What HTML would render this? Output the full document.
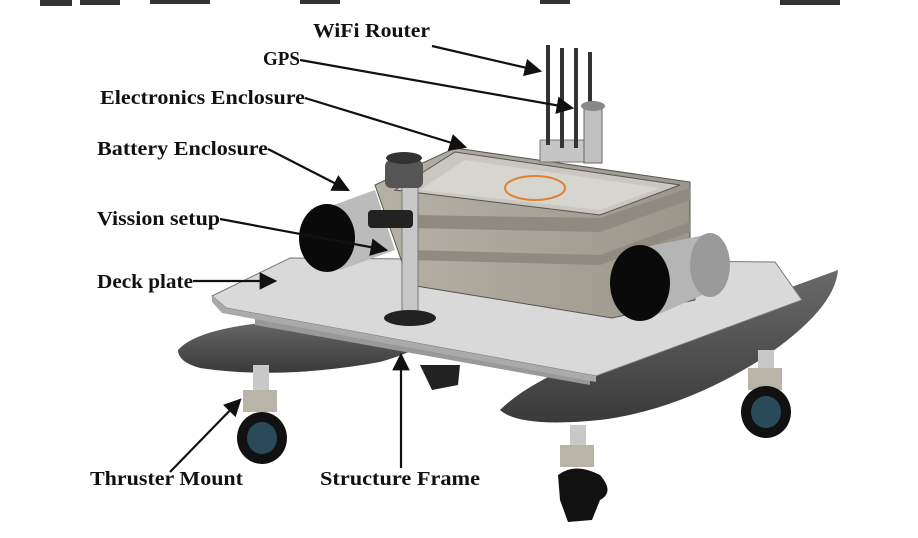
<!DOCTYPE html>
<html><head><style>
body{margin:0;background:#fff;}
svg{display:block;}
text{font-family:"Liberation Serif",serif;font-weight:bold;font-size:20px;fill:#111;}
</style></head><body>
<svg width="918" height="538" viewBox="0 0 918 538" xmlns="http://www.w3.org/2000/svg">
<defs>
<marker id="a" markerWidth="8" markerHeight="8" refX="7" refY="4" orient="auto"><path d="M0,0 L8,4 L0,8 z" fill="#111"/></marker>
<linearGradient id="hull" x1="0" y1="0" x2="0" y2="1"><stop offset="0" stop-color="#6a6a6a"/><stop offset="1" stop-color="#3a3a3a"/></linearGradient>
<linearGradient id="box" x1="0" y1="0" x2="1" y2="0"><stop offset="0" stop-color="#b5b1a5"/><stop offset="1" stop-color="#9a968a"/></linearGradient>
</defs>
<g fill="#333">
<rect x="40" y="0" width="32" height="6"/><rect x="80" y="0" width="40" height="5"/><rect x="150" y="0" width="60" height="4"/>
<rect x="300" y="0" width="40" height="4"/><rect x="540" y="0" width="30" height="4"/><rect x="780" y="0" width="60" height="5"/>
</g>
<path d="M178,350 Q200,325 300,320 L445,318 Q440,345 380,362 Q280,380 200,368 Q178,362 178,350z" fill="url(#hull)"/>
<path d="M500,410 Q540,370 660,335 L838,270 Q835,310 760,360 Q680,410 600,420 Q520,428 500,410z" fill="url(#hull)"/>
<rect x="253" y="365" width="16" height="30" fill="#c8c8c8"/>
<rect x="243" y="390" width="34" height="22" fill="#b8b4a8"/>
<ellipse cx="262" cy="438" rx="25" ry="26" fill="#111"/><ellipse cx="262" cy="438" rx="15" ry="16" fill="#2a4a5a"/>
<rect x="758" y="350" width="16" height="25" fill="#c8c8c8"/>
<rect x="748" y="368" width="34" height="22" fill="#b8b4a8"/>
<ellipse cx="766" cy="412" rx="25" ry="26" fill="#111"/><ellipse cx="766" cy="412" rx="15" ry="16" fill="#2a4a5a"/>
<rect x="570" y="425" width="16" height="25" fill="#c8c8c8"/>
<rect x="560" y="445" width="34" height="22" fill="#b8b4a8"/>
<path d="M558,475 Q575,462 600,475 Q615,492 600,500 L592,520 L568,522 L560,500z" fill="#111"/>
<path d="M420,365 L460,365 L458,385 L432,390z" fill="#222"/>
<path d="M255,318 L590,378 L590,385 L255,325z" fill="#999"/>
<polygon points="212,296 290,258 775,262 802,300 596,376 226,308" fill="#d9d9d9" stroke="#777" stroke-width="1"/>
<polygon points="212,296 226,308 596,376 596,382 222,313 212,302" fill="#aaa"/>
<polygon points="375,185 455,148 690,182 690,250 695,300 612,318 410,285" fill="url(#box)" stroke="#555"/>
<polygon points="395,190 455,152 680,185 600,215" fill="#c9c7c0" stroke="#555"/>
<polygon points="420,190 465,160 660,188 600,210" fill="#d6d5d0"/>
<ellipse cx="535" cy="188" rx="30" ry="12" fill="none" stroke="#e08030" stroke-width="2"/>
<polygon points="410,215 600,218 690,188 690,200 600,232 410,228" fill="#8f8b80"/>
<polygon points="410,250 600,255 690,222 690,232 600,265 410,260" fill="#8f8b80"/>
<polygon points="320,210 375,190 395,250 340,270" fill="#bbb"/>
<ellipse cx="327" cy="238" rx="28" ry="34" fill="#0a0a0a"/>
<polygon points="630,250 705,235 725,285 650,318" fill="#b5b5b5"/>
<ellipse cx="710" cy="265" rx="20" ry="32" fill="#9a9a9a"/>
<ellipse cx="640" cy="283" rx="30" ry="38" fill="#0a0a0a"/>
<rect x="402" y="175" width="16" height="140" fill="#c8c8c8" stroke="#777"/>
<ellipse cx="410" cy="318" rx="26" ry="8" fill="#222"/>
<rect x="385" y="160" width="38" height="28" rx="6" fill="#555"/>
<ellipse cx="404" cy="158" rx="18" ry="6" fill="#333"/>
<rect x="368" y="210" width="45" height="18" rx="4" fill="#222"/>
<rect x="540" y="140" width="60" height="22" fill="#c5c5c5" stroke="#777"/>
<rect x="546" y="45" width="4" height="100" fill="#333"/>
<rect x="560" y="48" width="4" height="100" fill="#333"/>
<rect x="574" y="48" width="4" height="100" fill="#333"/>
<rect x="588" y="52" width="4" height="95" fill="#333"/>
<rect x="584" y="108" width="18" height="55" fill="#c0c0c0" stroke="#666"/>
<ellipse cx="593" cy="106" rx="12" ry="5" fill="#888"/>
<text x="313" y="37" textLength="117" lengthAdjust="spacingAndGlyphs">WiFi Router</text>
<text x="263" y="65" textLength="37" lengthAdjust="spacingAndGlyphs">GPS</text>
<text x="100" y="104" textLength="205" lengthAdjust="spacingAndGlyphs">Electronics Enclosure</text>
<text x="97" y="155" textLength="171" lengthAdjust="spacingAndGlyphs">Battery Enclosure</text>
<text x="97" y="225" textLength="123" lengthAdjust="spacingAndGlyphs">Vission setup</text>
<text x="97" y="288" textLength="96" lengthAdjust="spacingAndGlyphs">Deck plate</text>
<text x="90" y="485" textLength="153" lengthAdjust="spacingAndGlyphs">Thruster Mount</text>
<text x="320" y="485" textLength="160" lengthAdjust="spacingAndGlyphs">Structure Frame</text>
<g stroke="#111" stroke-width="2.2" fill="none" marker-end="url(#a)">
<line x1="432" y1="46" x2="540" y2="71"/>
<line x1="300" y1="60" x2="572" y2="108"/>
<line x1="305" y1="98" x2="465" y2="147"/>
<line x1="268" y1="149" x2="348" y2="190"/>
<line x1="220" y1="219" x2="386" y2="250"/>
<line x1="193" y1="281" x2="275" y2="281"/>
<line x1="170" y1="472" x2="240" y2="400"/>
<line x1="401" y1="468" x2="401" y2="355"/>
</g>
</svg>
</body></html>
